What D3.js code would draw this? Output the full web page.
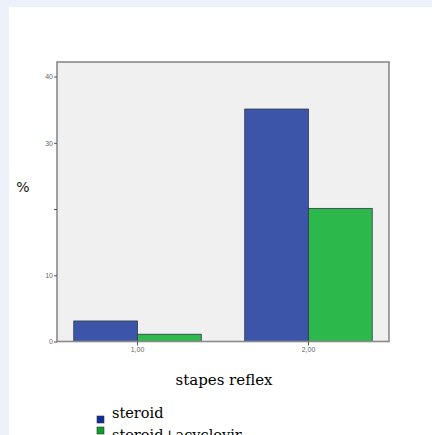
<!DOCTYPE html>
<html>
<head>
<meta charset="utf-8">
<script src="https://cdn.jsdelivr.net/npm/d3@7"></script>
<style>
  html, body { margin: 0; padding: 0; background: #edf1f9; }
  svg { display: block; }
</style>
</head>
<body>
<svg id="chart" width="432" height="435"></svg>
<script>
// Stapes reflex categories and percentages per treatment group
const categories = ["1,00", "2,00"];
const seriesNames = ["steroid", "steroid+acyclovir"];
const steroid = [3.1, 35.1];
const steroidAcyclovir = [1.1, 20.1];
const yTicks = [0, 10, 20, 30, 40];
const yTickLabels = ["0", "10", "", "30", "40"];

const seriesValues = [steroid, steroidAcyclovir];
const barColors = ["#3c55a9", "#2db84b"];
const legendColors = ["#0d2d9c", "#0c9f2b"];

const svg = d3.select("#chart");

// white panel
svg.append("rect").attr("x", 9).attr("y", 7).attr("width", 432).attr("height", 435).attr("fill", "#ffffff");

const plot = { left: 57, top: 62, right: 389, bottom: 341.5 };

const x0 = d3.scaleBand().domain(categories)
  .range([plot.left, plot.right]).paddingInner(0.254).paddingOuter(0.098);
const x1 = d3.scaleBand().domain(seriesNames).range([0, x0.bandwidth()]);
const y = d3.scaleLinear().domain([0, 42.2]).range([plot.bottom, plot.top]);

// plot background
svg.append("rect")
  .attr("x", plot.left).attr("y", plot.top)
  .attr("width", plot.right - plot.left).attr("height", plot.bottom - plot.top)
  .attr("fill", "#f0f0f0");

// bars
categories.forEach((c, i) => {
  seriesNames.forEach((s, j) => {
    const v = seriesValues[j][i];
    svg.append("rect")
      .attr("x", x0(c) + x1(s))
      .attr("y", y(v))
      .attr("width", x1.bandwidth())
      .attr("height", y(0) - y(v))
      .attr("fill", barColors[j])
      .attr("stroke", "#2f3a4a")
      .attr("stroke-width", 0.8);
  });
});

// frame
svg.append("rect")
  .attr("x", plot.left).attr("y", plot.top)
  .attr("width", plot.right - plot.left).attr("height", plot.bottom - plot.top)
  .attr("fill", "none").attr("stroke", "#8a8a8a").attr("stroke-width", 1.6);

// y axis
const yAxis = svg.append("g")
  .attr("transform", `translate(${plot.left},0)`)
  .call(d3.axisLeft(y).tickValues(yTicks).tickSize(3).tickPadding(1)
    .tickFormat((d, i) => yTickLabels[i]));
yAxis.select(".domain").remove();
yAxis.selectAll("line").attr("stroke", "#555");
yAxis.selectAll("text").attr("font-family", "Arial, 'Liberation Sans', sans-serif")
  .attr("font-size", 7).attr("fill", "#666");

// x axis
const xAxis = svg.append("g")
  .attr("transform", `translate(0,${plot.bottom})`)
  .call(d3.axisBottom(x0).tickSize(4).tickPadding(2));
xAxis.select(".domain").remove();
xAxis.selectAll("line").attr("stroke", "#555");
xAxis.selectAll("text").attr("font-family", "Arial, 'Liberation Sans', sans-serif")
  .attr("font-size", 7).attr("fill", "#666");

// axis titles
svg.append("text")
  .attr("x", 224).attr("y", 385)
  .attr("text-anchor", "middle")
  .attr("font-family", "'DejaVu Serif', serif").attr("font-size", 15)
  .attr("fill", "#000")
  .text("stapes reflex");

svg.append("text")
  .attr("x", 23).attr("y", 192)
  .attr("text-anchor", "middle")
  .attr("font-family", "'DejaVu Sans', sans-serif").attr("font-size", 14)
  .attr("fill", "#111")
  .text("%");

// legend: swatches and labels (second row runs off the bottom edge)
const legend = svg.append("g");
const swatchY = [416, 427];
const labelY = [418, 440];
seriesNames.forEach((s, j) => {
  legend.append("rect")
    .attr("x", 97).attr("y", swatchY[j]).attr("width", 7).attr("height", 7)
    .attr("fill", legendColors[j]).attr("stroke", "#333").attr("stroke-width", 0.6);
  legend.append("text")
    .attr("x", 112).attr("y", labelY[j])
    .attr("font-family", "'DejaVu Serif', serif").attr("font-size", 14.5)
    .attr("fill", "#000")
    .text(s);
});
</script>
</body>
</html>
